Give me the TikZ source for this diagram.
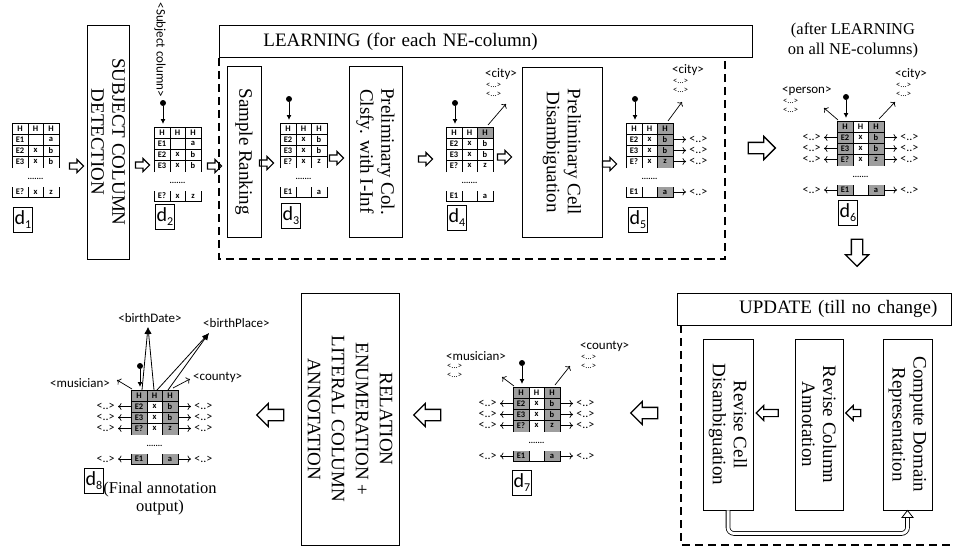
\documentclass[tikz,border=0pt]{standalone}
\usepackage{fontspec}
\setmainfont{Liberation Serif}
\newfontfamily\calib{Carlito}
\usetikzlibrary{shapes.arrows,arrows.meta,calc}
\definecolor{sh}{gray}{0.62}
\tikzset{
  procbox/.style={draw, line width=0.9pt, inner sep=2pt, align=center, font=\fontsize{19}{21}\selectfont},
  titlebox/.style={draw, line width=0.9pt, font=\fontsize{19}{21}\selectfont, anchor=north west, minimum height=32pt},
  dashbox/.style={line width=1.4pt, dash pattern=on 8pt off 5pt},
  sarrow/.style={single arrow, draw, line width=1.1pt, inner xsep=0pt, inner ysep=2.5pt, single arrow head extend=3.5pt, minimum height=14pt},
  barrow/.style={single arrow, draw, line width=1.3pt, inner xsep=0pt, inner ysep=5pt, single arrow head extend=6pt, minimum height=27pt},
  cell/.style={font=\calib\bfseries\fontsize{8.5}{8.5}\selectfont, inner sep=0},
  tline/.style={line width=0.9pt},
  dlab/.style={draw, line width=0.7pt, minimum width=19pt, minimum height=25pt, inner sep=0, anchor=north west},
  pindot/.style={circle, fill, inner sep=0, minimum size=6pt},
  pinarr/.style={line width=0.9pt, -{Latex[length=5pt,width=5pt]}},
  ann/.style={font=\calib\fontsize{13}{13}\selectfont, inner sep=0},
  cloudlab/.style={font=\calib\fontsize{8.5}{8.5}\selectfont, inner sep=0, align=left},
  rowlab/.style={font=\calib\fontsize{12}{12}\selectfont, inner sep=0},
  rarr/.style={line width=0.7pt, -{To[length=3.5pt,width=7pt]}},
  barr/.style={line width=0.8pt, -{Latex[length=7pt,width=6pt]}},
}
\newcommand\dtext[1]{\calib\fontsize{20}{20}\selectfont d\raisebox{-4pt}{\fontsize{12}{12}\selectfont #1}}
\newcommand\tabA[3]{%
\begin{scope}[shift={(#1,#2)}]
 \draw[tline] (0,45) -- (0,0) -- (47,0) -- (47,45) (16,0) -- (16,45) (31,0) -- (31,45) (0,11) -- (47,11) (0,22) -- (47,22) (0,33) -- (47,33);
 \draw[tline] (0,64) -- (0,74) -- (47,74) -- (47,64) (16,64) -- (16,74) (31,64) -- (31,74);
 \node[cell] (#3a1) at (8,5.5) {H}; \node[cell] (#3a2) at (23.5,5.5) {H}; \node[cell] (#3a3) at (39,5.5) {H};
 \node[cell] (#3b1) at (8,16.5) {E1}; \node[cell] (#3b3) at (39,16.5) {a};
 \node[cell] (#3c1) at (8,27.5) {E2}; \node[cell] (#3c2) at (23.5,27.5) {x}; \node[cell] (#3c3) at (39,27.5) {b};
 \node[cell] (#3d1) at (8,38.5) {E3}; \node[cell] (#3d2) at (23.5,38.5) {x}; \node[cell] (#3d3) at (39,38.5) {b};
 \node[cell] (#3dots) at (23.5,56) {.......};
 \node[cell] (#3e1) at (8,69) {E?}; \node[cell] (#3e2) at (23.5,69) {x}; \node[cell] (#3e3) at (39,69) {z};
 \coordinate (#3-pd) at (9,-24); \coordinate (#3-pin) at (9,-3);
\end{scope}}
\newcommand\tabB[9]{%
\begin{scope}[shift={(#1,#2)}]
 \fill[#4] (0,0) rectangle (16,11); \fill[#5] (16,0) rectangle (31,11); \fill[#6] (31,0) rectangle (47,11);
 \fill[#7] (0,11) rectangle (16,45); \fill[#8] (16,11) rectangle (31,45); \fill[#9] (31,11) rectangle (47,45);
 \fill[#7] (0,64) rectangle (16,74); \fill[#8] (16,64) rectangle (31,74); \fill[#9] (31,64) rectangle (47,74);
 \draw[tline] (0,45) -- (0,0) -- (47,0) -- (47,45) (16,0) -- (16,45) (31,0) -- (31,45) (0,11) -- (47,11) (0,22) -- (47,22) (0,33) -- (47,33);
 \draw[tline] (0,64) -- (0,74) -- (47,74) -- (47,64) (16,64) -- (16,74) (31,64) -- (31,74);
 \node[cell] (#3a1) at (8,5.5) {H}; \node[cell] (#3a2) at (23.5,5.5) {H}; \node[cell] (#3a3) at (39,5.5) {H};
 \node[cell] (#3b1) at (8,16.5) {E2}; \node[cell] (#3b2) at (23.5,16.5) {x}; \node[cell] (#3b3) at (39,16.5) {b};
 \node[cell] (#3c1) at (8,27.5) {E3}; \node[cell] (#3c2) at (23.5,27.5) {x}; \node[cell] (#3c3) at (39,27.5) {b};
 \node[cell] (#3d1) at (8,38.5) {E?}; \node[cell] (#3d2) at (23.5,38.5) {x}; \node[cell] (#3d3) at (39,38.5) {z};
 \node[cell] (#3dots) at (23.5,56) {.......};
 \node[cell] (#3e1) at (8,69) {E1}; \node[cell] (#3e3) at (39,69) {a};
 \coordinate (#3-pd) at (9,-24); \coordinate (#3-pin) at (9,-3);
 \coordinate (#3-ul) at (1,-1); \coordinate (#3-ur) at (42,-2);
 \coordinate (#3-r1) at (47,16.5); \coordinate (#3-r2) at (47,27.5); \coordinate (#3-r3) at (47,38.5); \coordinate (#3-r4) at (47,69);
 \coordinate (#3-l1) at (0,16.5); \coordinate (#3-l2) at (0,27.5); \coordinate (#3-l3) at (0,38.5); \coordinate (#3-l4) at (0,69);
\end{scope}}
\newcommand\pin[2]{\node[pindot] (#1) at (#2-pd) {}; \draw[pinarr] (#1) -- (#2-pin);}
\newcommand\rowsR[1]{\foreach \i in {1,2,3,4} {\draw[rarr] (#1-r\i) -- ++(13,0) node[rowlab, anchor=west, xshift=3pt] (#1-rl\i) {<..>};}}
\newcommand\rowsL[1]{\foreach \i in {1,2,3,4} {\draw[rarr] (#1-l\i) -- ++(-13,0) node[rowlab, anchor=east, xshift=-3pt] (#1-ll\i) {<..>};}}
\newcommand\clouds[1]{\node[cloudlab, anchor=north west] (#1-c) at ($(#1.south west)+(1,3.5)$) {<...>\\<...>};}

\begin{document}
\begin{tikzpicture}[x=1pt,y=-1pt]
\useasboundingbox[fill=white] (0,0) rectangle (953,549);

% ---------- top row ----------
\tabA{12}{123}{ta}
\node[dlab] (dl1) at (13,207) {\dtext{1}};
\node[sarrow] (ba1) at (75,166) {};
\node[procbox, rotate=-90, minimum width=234pt, minimum height=42pt] (subj) at (108,142) {SUBJECT COLUMN\\DETECTION};
\node[sarrow] (ba2) at (141,165) {};
\tabA{154}{127}{tb}
\pin{pb}{tb}
\node[ann, rotate=-90, anchor=east] (subjlab) at ($(pb)+(-3,-6)$) {<Subject column>};
\node[dlab] (dl2) at (155,204) {\dtext{2}};
\node[sarrow] (ba3) at (213,166) {};

% LEARNING block
\node[titlebox, text width=445pt, inner xsep=44pt, align=left] (learn) at (219,25) {LEARNING (for each NE-column)};
\draw[dashbox] (learn.south west) -- (219,259) -- (725,259) -- (725,57);
\node[procbox, rotate=-90, minimum width=171pt, minimum height=34pt] (samp) at (244,151.5) {Sample Ranking};
\node[sarrow] (ba4) at (265,163) {};
\tabB{280}{123}{tc}{white}{white}{white}{white}{white}{white}
\pin{pc}{tc}
\node[dlab] (dl3) at (281,203) {\dtext{3}};
\node[sarrow] (ba5) at (335,158) {};
\node[procbox, rotate=-90, minimum width=171pt, minimum height=53pt] (prelcol) at (375.5,151.5) {Preliminary Col.\\Clsfy. with I-Inf};
\node[sarrow] (ba6) at (424,159) {};
\tabB{446}{127}{td}{white}{white}{sh}{white}{white}{white}
\pin{pd}{td}
\node[ann, anchor=west] (d4city) at (485,74) {<city>};
\clouds{d4city}
\coordinate (d4tip) at (506,104);
\draw[rarr] (td-ur) -- (d4tip);
\node[dlab] (dl4) at (447,205) {\dtext{4}};
\node[sarrow] (ba7) at (503,157) {};
\node[procbox, rotate=-90, minimum width=170pt, minimum height=80pt] (prelcell) at (562,152) {Preliminary Cell\\Disambiguation};
\node[sarrow] (ba8) at (608,164) {};
\tabB{626}{123}{te}{white}{white}{sh}{white}{white}{sh}
\pin{pe}{te}
\node[ann, anchor=west] (d5city) at (672,70) {<city>};
\clouds{d5city}
\coordinate (d5tip) at (682,102);
\draw[rarr] (te-ur) -- (d5tip);
\rowsR{te}
\node[dlab] (dl5) at (628,207) {\dtext{5}};

% after learning
\node[barrow] (ba9) at (759,148) {};
\node[align=center, font=\fontsize{16.5}{20}\selectfont] (after) at (853,40) {(after LEARNING\\on all NE-columns)};
\tabB{837}{121}{tf}{sh}{white}{sh}{sh}{white}{sh}
\pin{pf}{tf}
\node[ann, anchor=west] (d6person) at (782,91) {<person>};
\clouds{d6person}
\node[ann, anchor=west] (d6city) at (895,74) {<city>};
\clouds{d6city}
\coordinate (d6tipa) at (824,108);
\coordinate (d6tipb) at (895,102);
\draw[rarr] (tf-ul) -- (d6tipa);
\draw[rarr] (tf-ur) -- (d6tipb);
\rowsL{tf}
\rowsR{tf}
\node[dlab] (dl6) at (838,200) {\dtext{6}};
\node[barrow, rotate=-90] (ba10) at (857,250) {};

% ---------- bottom row ----------
% UPDATE block
\node[titlebox, text width=246pt, inner xsep=14pt, align=right] (upd) at (677,293) {UPDATE (till no change)};
\draw[dashbox] (681,325) -- (681,545) -- (958,545);
\node[procbox, rotate=-90, minimum width=171pt, minimum height=50pt] (revcell) at (728,424.5) {Revise Cell\\Disambiguation};
\node[procbox, rotate=-90, minimum width=171pt, minimum height=48pt] (revcol) at (819,424.5) {Revise Column\\Annotation};
\node[procbox, rotate=-90, minimum width=171pt, minimum height=49pt] (compute) at (907.5,424.5) {Compute Domain\\Representation};
\node[sarrow, rotate=180, minimum height=22pt, inner ysep=3pt, single arrow head extend=4pt] (ba14) at (769,413) {};
\node[sarrow, rotate=180, minimum height=15pt, inner ysep=3pt, single arrow head extend=4pt] (ba15) at (855,413) {};
\draw[line width=0.8pt, double distance=3pt, rounded corners=6pt] (revcell.east) -- ++(0,23) -| ($(compute.east)+(0,7)$);
\draw[line width=0.8pt, fill=white] ($(compute.east)+(-5.5,7)$) -- (compute.east) -- ($(compute.east)+(5.5,7)$) -- cycle;

\node[barrow, rotate=180] (ba11) at (647,413) {};
\tabB{513}{387}{tg}{sh}{white}{sh}{sh}{white}{sh}
\pin{pg}{tg}
\node[ann, anchor=west] (d7mus) at (446,356) {<musician>};
\clouds{d7mus}
\node[ann, anchor=west] (d7county) at (580,346) {<county>};
\clouds{d7county}
\coordinate (d7tipa) at (502,377);
\coordinate (d7tipb) at (570,366);
\draw[rarr] (tg-ul) -- (d7tipa);
\draw[rarr] (tg-ur) -- (d7tipb);
\rowsL{tg}
\rowsR{tg}
\node[dlab] (dl7) at (512,470) {\dtext{7}};
\node[barrow, rotate=180] (ba12) at (430,415) {};
\node[procbox, rotate=-90, minimum width=252pt, minimum height=98pt, font=\fontsize{19}{24}\selectfont] (rel) at (350,419) {RELATION\\ENUMERATION +\\LITERAL COLUMN\\ANNOTATION};
\node[barrow, rotate=180] (ba13) at (273,415) {};

\tabB{131}{390}{th}{sh}{sh}{sh}{sh}{white}{sh}
\pin{ph}{th}
\node[ann] (bdate) at (150,318) {<birthDate>};
\node[ann, anchor=west] (bplace) at (203,323) {<birthPlace>};
\node[ann, anchor=west] (d8mus) at (50,383) {<musician>};
\node[ann, anchor=west] (d8county) at (193,377) {<county>};
\coordinate (bdtip) at (148,327);
\coordinate (bptip) at (209,333);
\coordinate (d8tipa) at (117,380);
\coordinate (d8tipb) at (190,379);
\draw[barr] ($(th-ul)+(10,1)$) -- (bdtip);
\draw[barr] ($(th-ul)+(22,1)$) -- (bdtip);
\draw[barr] ($(th-ul)+(25,1)$) -- (bptip);
\draw[barr] ($(th-ul)+(36,1)$) -- (bptip);
\draw[rarr] (th-ul) -- (d8tipa);
\draw[rarr] (th-ur) -- (d8tipb);
\rowsL{th}
\rowsR{th}
\node[dlab] (dl8) at (84,468) {\dtext{8}};
\node[align=center, font=\fontsize{16.5}{18}\selectfont] (final) at (160,499) {(Final annotation\\output)};
\end{tikzpicture}
\end{document}
